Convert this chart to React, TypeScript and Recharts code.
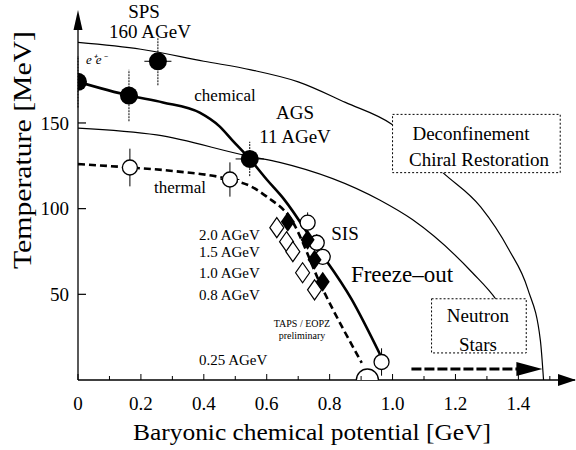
import React from 'react';
import { ComposedChart, Line, Scatter, XAxis, YAxis, ErrorBar, ReferenceArea } from 'recharts';

const FONT = "'Liberation Serif', 'Times New Roman', Times, serif";

// Deconfinement / chiral restoration boundary (outer thin curve)
const decMu = [0, 0.2, 0.4, 0.55, 0.7, 0.85, 1.0, 1.16, 1.28, 1.37, 1.43, 1.47, 1.48];
const decT = [197, 193, 186, 181, 174, 162, 149, 121, 101, 76, 53, 23, 0];

// middle thin curve (through AGS), ends in the Neutron Stars box
const midMu = [0, 0.25, 0.546, 0.641, 0.959, 1.063, 1.254, 1.33, 1.4];
const midT = [147, 143, 130.5, 127, 105, 93.6, 62.6, 46.8, 25];

// chemical freeze-out (thick solid)
const chemMu = [0, 0.162, 0.27, 0.387, 0.45, 0.49, 0.546, 0.6, 0.657, 0.75, 0.87, 0.96];
const chemT = [174, 166, 162, 156, 148, 140, 129, 117, 105, 80, 47, 15];

// thermal freeze-out (thick dashed)
const thermMu = [0, 0.165, 0.3, 0.483, 0.55, 0.6, 0.673, 0.778, 0.902];
const thermT = [126, 124, 122, 117, 113, 107, 95, 53, 10];

// neutron star arrow
const nsMu = [1.06, 1.4];
const nsT = [6.4, 6.4];

// filled circles (chemical freeze-out points, SPS, AGS)
const fcMu = [0, 0.162, 0.254, 0.546];
const fcT = [174, 166, 186, 129];
const fcErrT = [15, 15, 14, 10];
const fcErrMu = [0, 0.005, 0.043, 0.045];

// open circles (thermal freeze-out points)
const ocMu = [0.165, 0.483, 0.73, 0.759, 0.778, 0.965];
const ocT = [124, 117, 91.8, 80.1, 71.9, 10.5];
const ocErrT = [11, 10, 6, 5, 4, 8];
const ocErrMu = [0.01, 0.03, 0.015, 0.015, 0.015, 0.02];

// SIS filled diamonds
const fdMu = [0.667, 0.73, 0.752, 0.778];
const fdT = [92.4, 81.9, 70.2, 57.3];

// SIS open diamonds
const odMu = [0.632, 0.663, 0.683, 0.714, 0.752];
const odT = [88.9, 80.7, 74.9, 62.6, 52.6];

// TAPS / 0.25 AGeV large open circle
const bcMu = [0.92];
const bcT = [0];

// boxes
const decBoxMu = [1.0, 1.533];
const decBoxT = [121, 155];
const nsBoxMu = [1.124, 1.425];
const nsBoxT = [15.8, 47.4];

const xTicks = [0, 0.1, 0.2, 0.3, 0.4, 0.5, 0.6, 0.7, 0.8, 0.9, 1.0, 1.1, 1.2, 1.3, 1.4, 1.5];
const xLabelVals = [0, 0.2, 0.4, 0.6, 0.8, 1.0, 1.2, 1.4];
const xLabelText = ['0', '0.2', '0.4', '0.6', '0.8', '1.0', '1.2', '1.4'];
const yTicks = [50, 100, 150];

const pts = (mu: number[], T: number[], eT?: number[], eMu?: number[]) =>
  mu.map((m, i) => ({ mu: m, T: T[i], eT: eT ? eT[i] : 0, eMu: eMu ? eMu[i] : 0 }));

const XTick = (props: any) => {
  const { x, y, payload } = props;
  const axisY = y - 8;
  const idx = xLabelVals.findIndex((v) => Math.abs(v - payload.value) < 1e-6);
  return (
    <g>
      <line x1={x} x2={x} y1={axisY} y2={axisY - (idx >= 0 ? 6 : 4)} stroke="#000" strokeWidth={1} />
      {idx >= 0 && (
        <text x={x} y={axisY + 30} textAnchor="middle" style={{ fontFamily: FONT, fontSize: 19 }} fill="#000">
          {xLabelText[idx]}
        </text>
      )}
    </g>
  );
};

const YTick = (props: any) => {
  const { x, y, payload } = props;
  const axisX = x + 8;
  return (
    <g>
      <line x1={axisX} x2={axisX + 8} y1={y} y2={y} stroke="#000" strokeWidth={1.2} />
      <text x={x - 1} y={y} dy="0.35em" textAnchor="end" style={{ fontFamily: FONT, fontSize: 19 }} fill="#000">
        {payload.value}
      </text>
    </g>
  );
};

const FilledCircle = (p: any) => <circle cx={p.cx} cy={p.cy} r={9} fill="#000" />;
const OpenCircle = (p: any) => <circle cx={p.cx} cy={p.cy} r={7.5} fill="#fff" stroke="#000" strokeWidth={1.3} />;
const FilledDiamond = (p: any) => (
  <polygon points={`${p.cx},${p.cy - 10} ${p.cx + 7},${p.cy} ${p.cx},${p.cy + 10} ${p.cx - 7},${p.cy}`} fill="#000" />
);
const OpenDiamond = (p: any) => (
  <polygon
    points={`${p.cx},${p.cy - 10} ${p.cx + 7},${p.cy} ${p.cx},${p.cy + 10} ${p.cx - 7},${p.cy}`}
    fill="#fff"
    stroke="#000"
    strokeWidth={1.2}
  />
);
const HalfCircle = (p: any) => (
  <path d={`M ${p.cx - 11} ${p.cy} A 11 11 0 0 1 ${p.cx + 11} ${p.cy}`} fill="#fff" stroke="#000" strokeWidth={1.3} />
);

const ArrowDot = (p: any) => {
  if (p.index !== nsMu.length - 1) return <g key={`ad${p.index}`} />;
  return (
    <polygon
      key={`ad${p.index}`}
      points={`${p.cx - 2},${p.cy - 7} ${p.cx + 24},${p.cy} ${p.cx - 2},${p.cy + 7}`}
      fill="#000"
    />
  );
};

const Txt = ({ size, italic, style, ...rest }: any) => (
  <text
    fill="#000"
    style={{ fontFamily: FONT, fontSize: size, fontStyle: italic ? 'italic' : 'normal', ...(style || {}) }}
    {...rest}
  />
);

export default function App() {
  return (
    <div style={{ position: 'absolute', left: 0, top: 0, width: 576, height: 450, background: '#fff' }}>
      <ComposedChart width={576} height={450} margin={{ top: 15, right: 1, bottom: 8, left: 8 }}>
        <XAxis
          type="number"
          dataKey="mu"
          domain={[0, 1.58]}
          ticks={xTicks}
          allowDataOverflow
          height={62}
          tickSize={6}
          tickMargin={2}
          tickLine={false}
          tick={<XTick />}
          axisLine={{ stroke: '#000', strokeWidth: 1.5 }}
          interval={0}
        />
        <YAxis
          type="number"
          domain={[0, 213]}
          ticks={yTicks}
          allowDataOverflow
          width={70}
          tickSize={6}
          tickMargin={2}
          tickLine={false}
          tick={<YTick />}
          axisLine={{ stroke: '#000', strokeWidth: 1.3 }}
          interval={0}
        />
        <Line data={pts(decMu, decT)} dataKey="T" type="monotone" stroke="#000" strokeWidth={1.2} dot={false} isAnimationActive={false} />
        <Line data={pts(midMu, midT)} dataKey="T" type="monotone" stroke="#000" strokeWidth={1.2} dot={false} isAnimationActive={false} />
        <Line data={pts(chemMu, chemT)} dataKey="T" type="monotone" stroke="#000" strokeWidth={2.6} dot={false} isAnimationActive={false} />
        <Line data={pts(thermMu, thermT)} dataKey="T" type="monotone" stroke="#000" strokeWidth={2.6} strokeDasharray="7 4" dot={false} isAnimationActive={false} />
        <Line data={pts(nsMu, nsT)} dataKey="T" type="linear" stroke="#000" strokeWidth={3} strokeDasharray="10 3" dot={<ArrowDot />} isAnimationActive={false} />
        <ReferenceArea x1={decBoxMu[0]} x2={decBoxMu[1]} y1={decBoxT[0]} y2={decBoxT[1]} fill="#fff" fillOpacity={1} stroke="#000" strokeDasharray="2 2" strokeWidth={1} ifOverflow="visible" zIndex={1000} />
        <ReferenceArea x1={nsBoxMu[0]} x2={nsBoxMu[1]} y1={nsBoxT[0]} y2={nsBoxT[1]} fill="#fff" fillOpacity={1} stroke="#000" strokeDasharray="2 2" strokeWidth={1} ifOverflow="visible" zIndex={1000} />
        <Scatter data={pts(fcMu, fcT, fcErrT, fcErrMu)} dataKey="T" shape={<FilledCircle />} isAnimationActive={false}>
          <ErrorBar dataKey="eT" direction="y" width={0} stroke="#000" strokeWidth={1} strokeDasharray="2 1" />
          <ErrorBar dataKey="eMu" direction="x" width={0} stroke="#000" strokeWidth={1} />
        </Scatter>
        <Scatter data={pts(ocMu, ocT, ocErrT, ocErrMu)} dataKey="T" shape={<OpenCircle />} isAnimationActive={false}>
          <ErrorBar dataKey="eT" direction="y" width={0} stroke="#000" strokeWidth={1} />
          <ErrorBar dataKey="eMu" direction="x" width={0} stroke="#000" strokeWidth={1} />
        </Scatter>
        <Scatter data={pts(odMu, odT)} dataKey="T" shape={<OpenDiamond />} isAnimationActive={false} />
        <Scatter data={pts(fdMu, fdT)} dataKey="T" shape={<FilledDiamond />} isAnimationActive={false} />
        <Scatter data={pts(bcMu, bcT)} dataKey="T" shape={<HalfCircle />} isAnimationActive={false} />
      </ComposedChart>
      <svg width={576} height={450} style={{ position: 'absolute', left: 0, top: 0, pointerEvents: 'none' }}>
        {/* axis arrowheads */}
        <polygon points="78,10 73.5,30 82.5,30" fill="#000" />
        <polygon points="576,380 558,374 558,386" fill="#000" />
        {/* axis titles */}
        <Txt x={312} y={440} size={24} textAnchor="middle" textLength={358} lengthAdjust="spacingAndGlyphs">
          Baryonic chemical potential [GeV]
        </Txt>
        <Txt x={31} y={150} size={26} textAnchor="middle" transform="rotate(-90 31 150)" textLength={238} lengthAdjust="spacingAndGlyphs">
          Temperature [MeV]
        </Txt>
        {/* annotations */}
        <Txt x={144} y={18} size={19} textAnchor="middle">SPS</Txt>
        <Txt x={150} y={38} size={19} textAnchor="middle">160 AGeV</Txt>
        <Txt x={86} y={64} size={13} italic>e⁺e⁻</Txt>
        <Txt x={225} y={101} size={17} textAnchor="middle">chemical</Txt>
        <Txt x={295} y={119} size={19} textAnchor="middle">AGS</Txt>
        <Txt x={295} y={143} size={19} textAnchor="middle">11 AGeV</Txt>
        <Txt x={180} y={193} size={17} textAnchor="middle">thermal</Txt>
        <Txt x={471} y={140} size={19} textAnchor="middle">Deconfinement</Txt>
        <Txt x={479} y={166} size={19} textAnchor="middle">Chiral Restoration</Txt>
        <Txt x={345} y={240} size={19} textAnchor="middle">SIS</Txt>
        <Txt x={402} y={282} size={23} textAnchor="middle">Freeze–out</Txt>
        <Txt x={478} y={322} size={19} textAnchor="middle">Neutron</Txt>
        <Txt x={478} y={351} size={19} textAnchor="middle">Stars</Txt>
        <Txt x={199} y={240} size={15}>2.0 AGeV</Txt>
        <Txt x={199} y={257} size={15}>1.5 AGeV</Txt>
        <Txt x={199} y={278} size={15}>1.0 AGeV</Txt>
        <Txt x={199} y={300} size={15}>0.8 AGeV</Txt>
        <Txt x={199} y={365} size={15}>0.25 AGeV</Txt>
        <Txt x={302} y={327} size={10} textAnchor="middle">TAPS / EOPZ</Txt>
        <Txt x={302} y={339} size={10} textAnchor="middle">preliminary</Txt>
      </svg>
    </div>
  );
}
